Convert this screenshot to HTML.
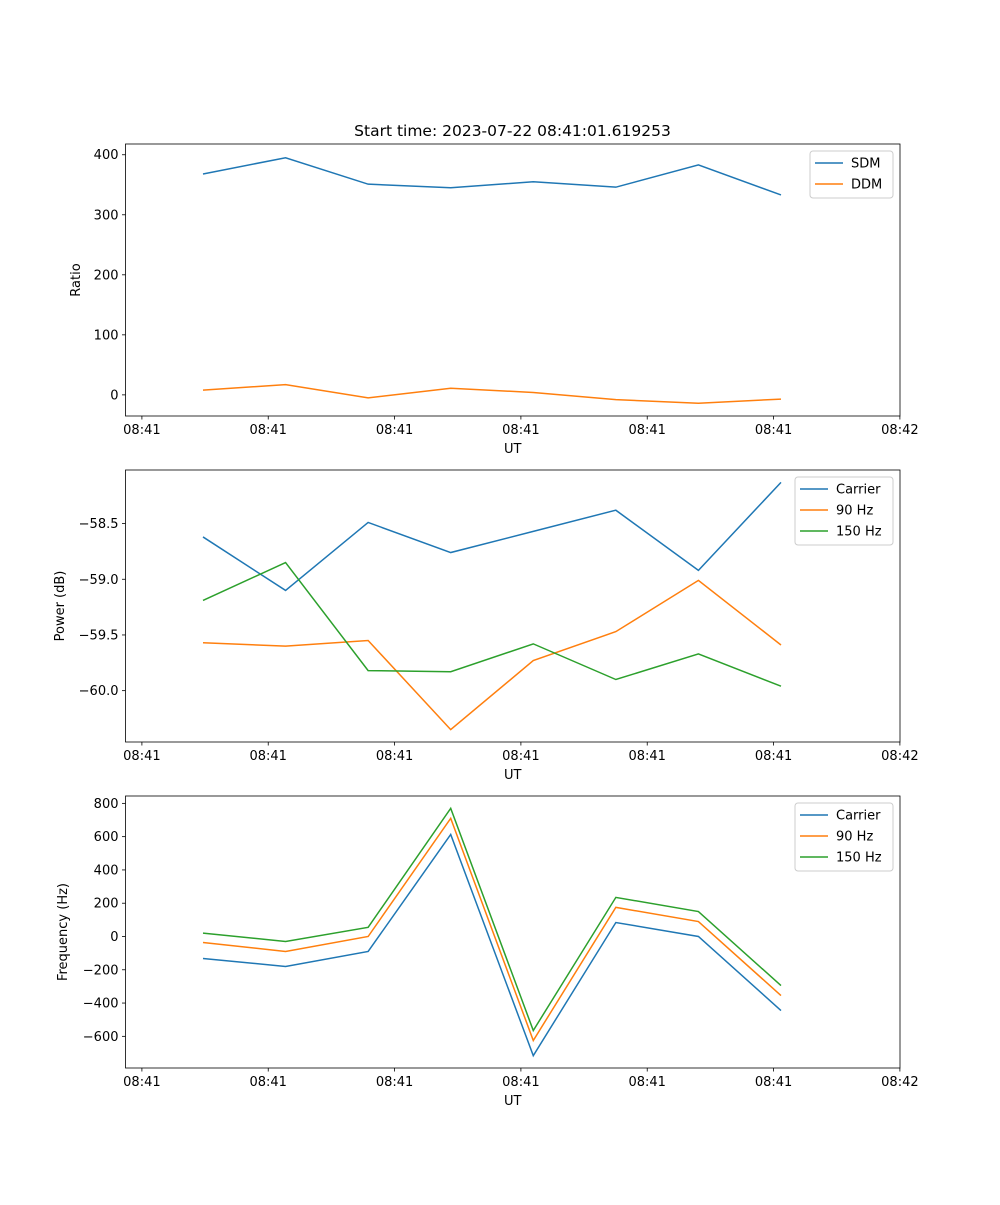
<!DOCTYPE html>
<html><head><meta charset="utf-8"><style>
body{margin:0;background:#fff}
svg text{font-family:"DejaVu Sans","Liberation Sans",sans-serif;font-size:13px;fill:#000}
</style></head><body>
<svg id="fig" width="1000" height="1200" xmlns="http://www.w3.org/2000/svg">
<rect width="1000" height="1200" fill="#fff"/>
<text x="512.5" y="136" text-anchor="middle" style="font-size:15.5px">Start time: 2023-07-22 08:41:01.619253</text>
</svg>
<script>
const categories=[0,1,2,3,4,5,6,7];
const xTickVals=[-0.74,0.79,2.32,3.85,5.38,6.91,8.44];
const xTickLabels=["08:41","08:41","08:41","08:41","08:41","08:41","08:42"];
const sdm=[368,395,351,345,355,346,383,333];
const ddm=[8,17,-5,11,4,-8,-14,-7];
const pCarrier=[-58.62,-59.10,-58.49,-58.76,-58.57,-58.38,-58.92,-58.13];
const p90=[-59.57,-59.60,-59.55,-60.35,-59.73,-59.47,-59.01,-59.59];
const p150=[-59.19,-58.85,-59.82,-59.83,-59.58,-59.90,-59.67,-59.96];
const fCarrier=[-132,-180,-90,613,-716,84,0,-445];
const f90=[-36,-90,0,710,-625,175,90,-355];
const f150=[20,-30,55,770,-565,235,150,-295];
const ticks1=[0,100,200,300,400], ticks1L=["0","100","200","300","400"];
const ticks2=[-60,-59.5,-59,-58.5], ticks2L=["\u221260.0","\u221259.5","\u221259.0","\u221258.5"];
const ticks3=[-600,-400,-200,0,200,400,600,800], ticks3L=["\u2212600","\u2212400","\u2212200","0","200","400","600","800"];
const C=["#1f77b4","#ff7f0e","#2ca02c"];
const NS="http://www.w3.org/2000/svg";
const svg=document.getElementById('fig');
function mk(t,a,p){const e=document.createElementNS(NS,t);for(const k in a)e.setAttribute(k,a[k]);(p||svg).appendChild(e);return e;}
const L=125.5,R=900,px0=203,dx=82.57;
function xs(i){return px0+i*dx;}
function panel(name,top,bot,ymin,ymax,ticks,tl,ylabel,series,names,legW){
  const g=mk('g',{});
  
  
  const ys=v=>bot-(v-ymin)/(ymax-ymin)*(bot-top);
  series.forEach((s,k)=>{
    const pl=mk('polyline',{points:s.map((v,i)=>xs(categories[i])+','+ys(v)).join(' '),fill:'none',stroke:C[k],'stroke-width':1.5},g);
    
    
  });
  mk('rect',{x:L,y:top,width:R-L,height:bot-top,fill:'none',stroke:'#000','stroke-width':0.8},g);
  xTickVals.forEach((v,i)=>{const x=xs(v);mk('line',{x1:x,x2:x,y1:bot,y2:bot+3.5,stroke:'#000','stroke-width':0.8},g);
    const t=mk('text',{x:x,y:bot+18,'text-anchor':'middle'},g);t.textContent=xTickLabels[i];
    });
  ticks.forEach((v,i)=>{const y=ys(v);mk('line',{x1:L-3.5,x2:L,y1:y,y2:y,stroke:'#000','stroke-width':0.8},g);
    const t=mk('text',{x:L-7,y:y+4.5,'text-anchor':'end'},g);t.textContent=tl[i];
    });
  const xl=mk('text',{x:(L+R)/2,y:bot+37,'text-anchor':'middle'},g);xl.textContent='UT';
  
  const yx=ylabel.x;
  const yl=mk('text',{x:yx,y:(top+bot)/2,'text-anchor':'middle',transform:`rotate(-90 ${yx} ${(top+bot)/2})`},g);yl.textContent=ylabel.t;
  
  const lg=mk('g',{},g);
  
  const lh=series.length*21+5;
  const lx=R-7-legW;
  mk('rect',{x:lx,y:top+7,width:legW,height:lh,rx:3,fill:'#fff','fill-opacity':0.8,stroke:'#ccc'},lg);
  names.forEach((n,k)=>{const y=top+19+k*21;
    mk('line',{x1:lx+5,x2:lx+33,y1:y,y2:y,stroke:C[k],'stroke-width':1.5},lg);
    const t=mk('text',{x:lx+41,y:y+4.5},lg);t.textContent=n;
    
  });
}
panel('ratio-panel',144,416,-35.2,417.9,ticks1,ticks1L,{x:80,t:'Ratio'},[sdm,ddm],['SDM','DDM'],83);
panel('power-panel',470,742,-60.461,-58.019,ticks2,ticks2L,{x:64,t:'Power (dB)'},[pCarrier,p90,p150],['Carrier','90 Hz','150 Hz'],98);
panel('frequency-panel',796,1068,-790.3,844.3,ticks3,ticks3L,{x:67,t:'Frequency (Hz)'},[fCarrier,f90,f150],['Carrier','90 Hz','150 Hz'],98);
</script>
</body></html>
